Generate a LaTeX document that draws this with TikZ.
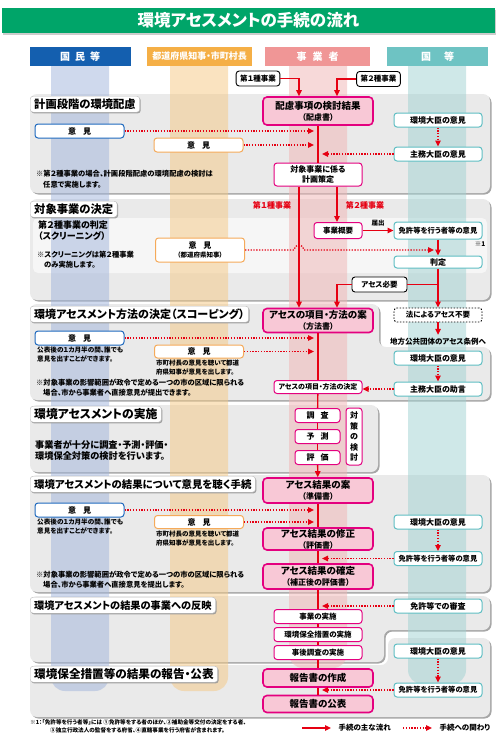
\documentclass[tikz,border=0pt]{standalone}
\usepackage{fontspec}
\setmainfont{Noto Sans CJK JP}[RawFeature=+palt]
\usetikzlibrary{arrows.meta,positioning,shadows}

\definecolor{titlegreen}{RGB}{0,165,105}
\definecolor{flowred}{RGB}{230,0,18}
\definecolor{mainmag}{RGB}{228,0,127}
\definecolor{mainfill}{RGB}{248,200,214}
\definecolor{kunibd}{RGB}{95,190,195}
\definecolor{minbd}{RGB}{30,105,190}
\definecolor{kenbd}{RGB}{245,170,90}
\definecolor{hdblue}{RGB}{20,95,175}
\definecolor{hdorange}{RGB}{245,175,70}
\definecolor{hdpink}{RGB}{240,150,150}
\definecolor{hdteal}{RGB}{110,195,195}
\definecolor{stblue}{RGB}{160,180,220}
\definecolor{storange}{RGB}{245,200,130}
\definecolor{stpink}{RGB}{240,180,180}
\definecolor{stteal}{RGB}{160,210,210}
\definecolor{secgray}{RGB}{234,234,234}

\newcommand{\fsz}[2]{\fontsize{#1}{#2}\selectfont}

\begin{document}
\begin{tikzpicture}[x=1pt, y=-1pt,
        mainbox/.style={draw=mainmag, line width=1.6pt, fill=mainfill, rounded corners=4pt,
                        align=center, minimum width=110pt, inner sep=1pt, font=\bfseries\fsz{9.5}{11}},
        subbox/.style={draw=mainmag, line width=1pt, fill=white, rounded corners=3pt, align=center,
                       minimum width=88pt, minimum height=14pt, inner sep=1pt, font=\bfseries\fsz{7.5}{9}},
        kunibox/.style={draw=kunibd, line width=1pt, fill=white, rounded corners=3pt,
                        minimum width=88pt, minimum height=14pt, inner sep=1pt, font=\bfseries\fsz{8}{9}},
        minbox/.style={draw=minbd, line width=1pt, fill=white, rounded corners=3pt,
                       minimum width=89pt, minimum height=14pt, inner sep=1pt, font=\bfseries\fsz{8}{9}},
        kenbox/.style={draw=kenbd, line width=1pt, fill=white, rounded corners=3pt, align=center,
                       minimum width=89pt, minimum height=14pt, inner sep=1pt, font=\bfseries\fsz{8}{9}},
        kindbox/.style={draw=black, line width=0.9pt, fill=white, rounded corners=3pt,
                        minimum height=15pt, inner xsep=4pt, inner ysep=1pt, font=\bfseries\fsz{7.5}{9}},
        head/.style={minimum width=101pt, minimum height=19pt, inner sep=0pt, text=white,
                     font=\bfseries\fsz{10}{11}},
        tab/.style={anchor=north west, fill=white, draw=gray!55, line width=0.4pt, rounded corners=3pt,
                    inner xsep=4pt, inner ysep=2pt, minimum height=16pt, font=\bfseries\fsz{11.3}{12},
                    drop shadow={shadow xshift=1pt, shadow yshift=-1.2pt, fill=gray!80, opacity=0.9}},
        sec/.style={fill=secgray, rounded corners=7pt,
                    drop shadow={shadow xshift=1.5pt, shadow yshift=-1.5pt, fill=gray!70, opacity=1}},
        memo/.style={anchor=north west, align=left, inner sep=0pt, font=\bfseries\fsz{7}{10}},
        redlbl/.style={text=flowred, font=\bfseries\fsz{8}{9}},
        spine/.style={draw=flowred, line width=1.3pt},
        flow/.style={draw=flowred, line width=1.3pt, -{Triangle[length=6pt, width=5.5pt]}},
        rel/.style={draw=flowred, line width=1.3pt, dash pattern=on 1.3pt off 1.5pt,
                    -{Triangle[length=6pt, width=5.5pt]}}
    ]
    \useasboundingbox (0,0) rectangle (500,740);

    % title
    \node[fill=titlegreen, minimum width=493pt, minimum height=25pt, text=white,
          font=\bfseries\fsz{16.5}{17}, drop shadow={shadow xshift=1pt, shadow yshift=-2pt, opacity=0.4}]
          (title) at (248.5,20) {環境アセスメントの手続の流れ};

    % sections
    \fill[sec] (30,94) rectangle (490,193);
    \fill[sec] (30,199) rectangle (490,300);
    \fill[white!55!secgray, rounded corners=5pt] (33,218) rectangle (487,273);
    \fill[sec] (30,304) -- (379,304) -- (379,347) -- (490,347) -- (490,400) -- (30,400) -- cycle;
    \fill[sec] (30,405) rectangle (378,472);
    \fill[sec] (30,475) rectangle (490,592);
    \fill[sec] (30,596) -- (490,596) -- (490,630) -- (384,630) -- (384,662) -- (30,662) -- cycle;
    \fill[sec] (30,665) -- (388,665) -- (388,638) -- (490,638) -- (490,717) -- (30,717) -- cycle;

    % column stripes
    \fill[stblue, opacity=0.5, rounded corners=14pt] (51,50) rectangle (109,691);
    \fill[storange, opacity=0.5, rounded corners=14pt] (170,50) rectangle (228,691);
    \fill[stpink, opacity=0.5, rounded corners=14pt] (289,50) rectangle (347,668);
    \fill[stteal, opacity=0.5, rounded corners=14pt] (408,50) rectangle (466,684);

    % column heads
    \node[head, fill=hdblue] (h-min) at (80,56.5) {国\hspace{5pt}民\hspace{5pt}等};
    \node[head, fill=hdorange, minimum width=105pt, font=\bfseries\fsz{9}{10}] (h-ken) at (199.5,56.5) {都道府県知事・市町村長};
    \node[head, fill=hdpink, minimum width=105pt] (h-jigyo) at (317.5,56.5) {事\hspace{6pt}業\hspace{6pt}者};
    \node[head, fill=hdteal] (h-kuni) at (437.5,56.5) {国\hspace{13pt}等};

    % section tabs
    \node[tab] (t-hairyo) at (30,96) {計画段階の環境配慮};
    \node[tab] (t-taisho) at (30,201) {対象事業の決定};
    \node[tab, font=\bfseries\fsz{11}{12}] (t-hoho) at (30,306) {環境アセスメント方法の決定（スコーピング）};
    \node[tab, font=\bfseries\fsz{11.8}{12}] (t-jisshi) at (30,406) {環境アセスメントの実施};
    \node[tab, font=\bfseries\fsz{10.4}{12}] (t-kekka) at (30,476) {環境アセスメントの結果について意見を聴く手続};
    \node[tab, font=\bfseries\fsz{10.2}{12}] (t-hanei) at (30,597) {環境アセスメントの結果の事業への反映};
    \node[tab, font=\bfseries\fsz{11.6}{12}] (t-hokoku) at (30,666) {環境保全措置等の結果の報告・公表};

    \coordinate (spineL) at (314,0);
    \coordinate (spineR) at (322,0);
    \coordinate (hop) at (294,0);
    \coordinate (hantei-lane) at (434,0);

    % 計画段階
    \node[kindbox] (kind1) at (258,78.5) {第１種事業};
    \node[kindbox] (kind2) at (378.5,79) {第２種事業};
    \node[mainbox, minimum height=28pt] (hairyo) at (318,111) {配慮事項の検討結果\\{\fsz{8}{9}（配慮書）}};
    \node[kunibox] (env1) at (438,120) {環境大臣の意見};
    \node[kunibox] (shumu1) at (438,154) {主務大臣の意見};
    \node[minbox] (iken-b1) at (79.5,131) {意\hspace{7pt}見};
    \node[kenbox] (iken-o1) at (198.5,145) {意\hspace{7pt}見};
    \node[memo, font=\bfseries\fsz{7.3}{10.5}] (note1) at (36,170)
        {※第２種事業の場合、計画段階配慮の環境配慮の検討は\\\hspace{7pt}任意で実施します。};
    \node[subbox, minimum height=23pt, font=\bfseries\fsz{8}{9.5}] (keikaku) at (318,174.5) {対象事業に係る\\計画策定};

    % 対象事業の決定
    \node[redlbl] (lbl-kind1) at (272,205) {第１種事業};
    \node[redlbl] (lbl-kind2) at (365,205) {第２種事業};
    \node[subbox, minimum width=48pt, minimum height=16pt] (gaiyo) at (338,230.5) {事業概要};
    \node[kunibox, minimum height=17pt, font=\bfseries\fsz{7.3}{9}] (menkyo1) at (438,230.5) {免許等を行う者等の意見};
    \node[font=\bfseries\fsz{6.5}{7}] (note-star) at (480,244) {※1};
    \node[kunibox, minimum height=12pt] (hantei) at (438,262) {判定};
    \node[memo, font=\bfseries\fsz{9}{11}] (screening) at (38,221) {第２種事業の判定\\（スクリーニング）};
    \node[memo, font=\bfseries\fsz{7.3}{10}] (note2) at (37,251) {※スクリーニングは第２種事業\\\hspace{7pt}のみ実施します。};
    \node[kenbox, minimum height=24pt] (iken-o2) at (200,250) {意\hspace{7pt}見\\{\fsz{6.5}{8}（都道府県知事）}};
    \node[kindbox, minimum width=55pt] (hitsuyo) at (379.5,284.5) {アセス必要};

    % 方法の決定
    \node[kindbox, dash pattern=on 1.5pt off 1.5pt, minimum width=88pt, minimum height=14pt] (fuyo) at (438,315) {法によるアセス不要};
    \node[font=\bfseries\fsz{7.5}{8}] (jorei) at (438,342) {地方公共団体のアセス条例へ};
    \node[mainbox, minimum height=24pt] (hohosho) at (318,320.5) {アセスの項目・方法の案\\{\fsz{8}{9}（方法書）}};
    \node[kunibox] (env2) at (438,358) {環境大臣の意見};
    \node[kunibox] (jogen) at (438,389) {主務大臣の助言};
    \node[subbox, minimum height=13pt, font=\bfseries\fsz{7}{8}] (kettei) at (318,387) {アセスの項目・方法の決定};
    \node[minbox] (iken-b3) at (79.5,338) {意\hspace{7pt}見};
    \node[memo, font=\bfseries\fsz{6.6}{8.5}] (note3a) at (37,347) {公表後の１カ月半の間、誰でも\\意見を出すことができます。};
    \node[kenbox, minimum height=13pt] (iken-o3) at (199,351.5) {意\hspace{7pt}見};
    \node[memo, font=\bfseries\fsz{6.5}{8.5}] (note3b) at (156,360) {市町村長の意見を聴いて都道\\府県知事が意見を出します。};
    \node[memo, font=\bfseries\fsz{7.3}{10}] (note3c) at (36,379)
        {※対象事業の影響範囲が政令で定める一つの市の区域に限られる\\\hspace{7pt}場合、市から事業者へ直接意見が提出できます。};

    % 実施
    \node[subbox, minimum width=45pt, font=\bfseries\fsz{8}{9}] (chosa) at (317.5,415.5) {調\hspace{6pt}査};
    \node[subbox, minimum width=45pt, font=\bfseries\fsz{8}{9}, below=6pt of chosa] (yosoku) {予\hspace{6pt}測};
    \node[subbox, minimum width=45pt, font=\bfseries\fsz{8}{9}, below=6pt of yosoku] (hyoka) {評\hspace{6pt}価};
    \node[subbox, minimum width=16pt, minimum height=57pt, font=\bfseries\fsz{8}{10.5}] (taisaku) at (354,436.5) {対\\策\\の\\検\\討};
    \node[memo, font=\bfseries\fsz{9.2}{11}] (note4) at (35,440) {事業者が十分に調査・予測・評価・\\環境保全対策の検討を行います。};

    % 意見を聴く手続
    \node[mainbox, minimum height=25pt] (junbisho) at (318,490.5) {アセス結果の案\\{\fsz{8}{9}（準備書）}};
    \node[minbox] (iken-b5) at (79.5,510) {意\hspace{7pt}見};
    \node[memo, font=\bfseries\fsz{6.6}{8.5}] (note5a) at (37,519) {公表後の１カ月半の間、誰でも\\意見を出すことができます。};
    \node[kenbox, minimum height=13pt] (iken-o5) at (199,522) {意\hspace{7pt}見};
    \node[memo, font=\bfseries\fsz{6.5}{8.5}] (note5b) at (156,531) {市町村長の意見を聴いて都道\\府県知事が意見を出します。};
    \node[memo, font=\bfseries\fsz{7.3}{10}] (note5c) at (36,571)
        {※対象事業の影響範囲が政令で定める一つの市の区域に限られる\\\hspace{7pt}場合、市から事業者へ直接意見を提出します。};
    \node[kunibox] (env5) at (438,522) {環境大臣の意見};
    \node[kunibox, font=\bfseries\fsz{7.3}{9}] (menkyo5) at (438,558.5) {免許等を行う者等の意見};
    \node[mainbox, minimum height=22pt] (hyokasho) at (318,539) {アセス結果の修正\\{\fsz{8}{9}（評価書）}};
    \node[mainbox, minimum height=25pt] (hosei) at (318,576.5) {アセス結果の確定\\{\fsz{8}{9}（補正後の評価書）}};

    % 事業への反映
    \node[kunibox] (shinsa) at (438,606) {免許等での審査};
    \node[subbox] (jisshi) at (318,616.5) {事業の実施};
    \node[subbox, below=3pt of jisshi] (hozen) {環境保全措置の実施};
    \node[subbox, below=3pt of hozen] (jigo) {事後調査の実施};

    % 報告・公表
    \node[kunibox] (env7) at (438,651) {環境大臣の意見};
    \node[kunibox, font=\bfseries\fsz{7.3}{9}] (menkyo7) at (438,690) {免許等を行う者等の意見};
    \node[mainbox, minimum height=18pt] (sakusei) at (318,678) {報告書の作成};
    \node[mainbox, minimum height=17pt] (kohyo) at (318,704) {報告書の公表};

    % main flow
    \draw[flow] (kind1.east) -| ([xshift=-19pt]hairyo.north);
    \draw[flow] (kind2.west) -| ([xshift=19pt]hairyo.north);
    \draw[spine] (hairyo) -- (keikaku);
    \draw[flow] ([xshift=-19pt]keikaku.south) -- ([xshift=-19pt]keikaku.south |- hohosho.north);
    \draw[flow] ([xshift=19pt]keikaku.south) -- ([xshift=19pt]keikaku.south |- gaiyo.north);
    \draw[flow] (gaiyo.east) -- (gaiyo.east -| menkyo1.west)
        node[midway, above=0pt, text=black, font=\bfseries\fsz{6.5}{7}] (todoke) {届出};
    \draw[flow] (menkyo1) -- (hantei);
    \draw[flow] (hantei) -- (fuyo);
    \coordinate (branch) at (hantei |- hitsuyo);
    \draw[spine] (branch) -- (hitsuyo);
    \draw[flow] (hitsuyo.west) -| ([xshift=19pt]hohosho.north);
    \draw[flow] (fuyo) -- (jorei);
    \foreach \a/\b in {hohosho/kettei, kettei/chosa, chosa/yosoku, yosoku/hyoka,
                       junbisho/hyokasho, hyokasho/hosei, hosei/jisshi, jisshi/hozen,
                       hozen/jigo, jigo/sakusei, sakusei/kohyo}
        \draw[spine] (\a) -- (\b);
    \draw[flow] (hyoka) -- (junbisho);

    % relations
    \draw[rel] (iken-b1) -- (iken-b1 -| spineL);
    \draw[rel] (iken-o1) -- (iken-o1 -| spineL);
    \draw[rel] (env1) -- (shumu1);
    \draw[rel] (shumu1) -- (shumu1 -| spineR);
    \draw[rel] (iken-o2.east) -- (iken-o2.east -| hop) arc[start angle=180, end angle=0, radius=5pt]
        -- (iken-o2.east -| hantei-lane);
    \draw[rel] (iken-b3) -- (iken-b3 -| spineL);
    \draw[rel] (iken-o3) -- (iken-o3 -| spineL);
    \draw[rel] (env2) -- (jogen);
    \draw[rel] (jogen.west) -- (jogen.west -| kettei.east);
    \draw[rel] (iken-b5) -- (iken-b5 -| spineL);
    \draw[rel] (iken-o5) -- (iken-o5 -| spineL);
    \draw[rel] (env5) -- (menkyo5);
    \draw[rel] (menkyo5) -- (menkyo5 -| spineR);
    \draw[rel] (shinsa) -- (shinsa -| spineR);
    \draw[rel] (env7) -- (menkyo7);
    \draw[rel] (menkyo7) -- (menkyo7 -| spineR);

    % footnote and legend
    \node[memo, font=\bfseries\fsz{5.6}{8.5}] (fn) at (30,719)
        {※1：「免許等を行う者等」には ①免許等をする者のほか、②補助金等交付の決定をする者、\\\hspace{20pt}③独立行政法人の監督をする府省、④直轄事業を行う府省が含まれます。};
    \node[anchor=west, font=\bfseries\fsz{7.5}{8}] (lg-main) at (335,728) {手続の主な流れ};
    \node[anchor=west, font=\bfseries\fsz{7.5}{8}] (lg-rel) at (436,728) {手続への関わり};
    \draw[flow] ([xshift=-33pt]lg-main.west) -- ([xshift=-4pt]lg-main.west);
    \draw[rel] ([xshift=-33pt]lg-rel.west) -- ([xshift=-4pt]lg-rel.west);
\end{tikzpicture}
\end{document}
